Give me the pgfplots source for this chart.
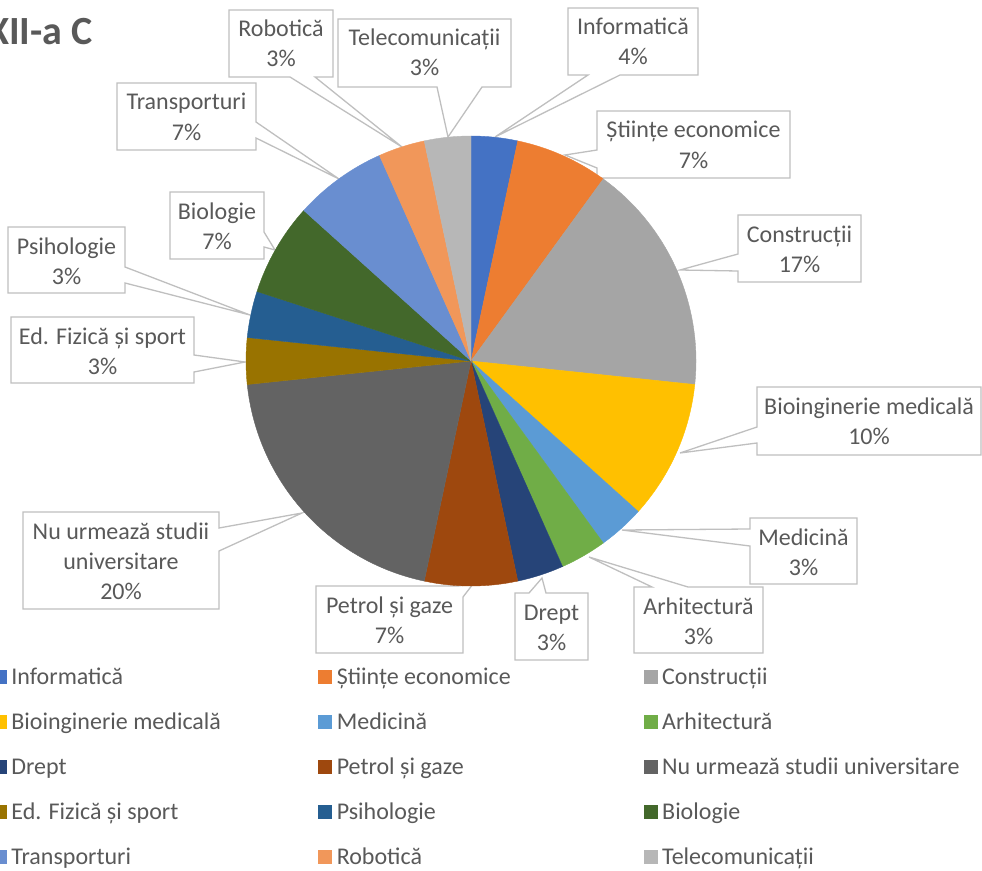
\documentclass[border=0pt]{standalone}
\usepackage{pgfplots}
\pgfplotsset{compat=1.18}
\usepackage{pgfplotstable}
\usepackage{fontspec}
\setmainfont{Carlito}

\definecolor{txt}{HTML}{595959}
\definecolor{boxgray}{HTML}{BFBFBF}
\definecolor{c1}{HTML}{4472C4}
\definecolor{c2}{HTML}{ED7D31}
\definecolor{c3}{HTML}{A5A5A5}
\definecolor{c4}{HTML}{FFC000}
\definecolor{c5}{HTML}{5B9BD5}
\definecolor{c6}{HTML}{70AD47}
\definecolor{c7}{HTML}{264478}
\definecolor{c8}{HTML}{9E480E}
\definecolor{c9}{HTML}{636363}
\definecolor{c10}{HTML}{997300}
\definecolor{c11}{HTML}{255E91}
\definecolor{c12}{HTML}{43682B}
\definecolor{c13}{HTML}{698ED0}
\definecolor{c14}{HTML}{F1975A}
\definecolor{c15}{HTML}{B7B7B7}

% students per option, 30 in all
\pgfplotstableread{
idx cnt
1 1
2 2
3 5
4 3
5 1
6 1
7 1
8 2
9 6
10 1
11 1
12 2
13 2
14 1
15 1
}\slices
\pgfplotstablecreatecol[create col/expr accum={\pgfmathaccuma+\thisrow{cnt}}{0}]{cum}\slices

\pgfdeclareplotmark{wedgeonly}{}
\tikzset{callout/.style={fill=white, draw=boxgray, line width=1.3pt, line join=miter}}
\newcommand\lfont{\fontsize{24}{28}\selectfont}
\newcommand\lgd[1]{\makebox[307pt][l]{\rule[-7pt]{0pt}{25pt}#1}}
\newcommand\lab[4]{%
  \node[anchor=base, text=txt, font=\lfont, inner sep=0pt] at (axis cs:#1,{#2+27}) {#3};
  \node[anchor=base, text=txt, font=\lfont, inner sep=0pt] at (axis cs:#1,{#2+57}) {#4};}

% one legend row per overlaid axis, so that the rows sit 45px apart
\pgfplotsset{frame/.style={at={(0,0)}, anchor=south west, scale only axis,
    width=982pt, height=870pt, xmin=0, xmax=982, ymin=0, ymax=870,
    y dir=reverse, hide axis, clip=false, legend columns=3,
    legend image code/.code={\fill[##1] (0pt,-6.5pt) rectangle (13pt,6.5pt); \path (18pt,0pt);},
    legend style={draw=none, fill=none, inner sep=0pt, outer sep=0pt,
      anchor=north west, font=\lfont, text=txt,
      /tikz/column sep=0pt, nodes={inner sep=0pt}}},
  legrow/.style={frame, legend style={at={(axis cs:-7,#1)}}}}

\begin{document}
\begin{tikzpicture}
\useasboundingbox (0,0) rectangle (982pt,870pt);
\begin{axis}[legrow=666.5]

\addplot[forget plot, scatter, only marks, mark=wedgeonly,
  visualization depends on={\thisrow{idx} \as \sidx},
  visualization depends on={90-12*(\thisrow{cum}-\thisrow{cnt}) \as \aA},
  visualization depends on={90-12*\thisrow{cum} \as \aB},
  scatter/@pre marker code/.code={%
    \pgfmathtruncatemacro\k{\sidx}%
    \fill[c\k] (0,0) -- (\aA:225pt) arc[start angle=\aA, end angle=\aB, radius=225pt] -- cycle;},
  scatter/@post marker code/.code={}]
  table[x expr=471, y expr=361] \slices;

\addlegendimage{c1}\addlegendentry{\lgd{Informatică}}
\addlegendimage{c2}\addlegendentry{\lgd{Științe economice}}
\addlegendimage{c3}\addlegendentry{\lgd{Construcții}}

% data label callouts
\filldraw[callout] (229,10) -- (333,10) -- (333,77) -- (315,77) -- (402,147) -- (290,77) -- (229,77) -- cycle;
\lab{281}{10}{Robotică}{3\%}
\filldraw[callout] (338,19) -- (511,19) -- (511,87) -- (482,87) -- (448,137) -- (437,87) -- (338,87) -- cycle;
\lab{424.5}{19}{Telecomunicații}{3\%}
\filldraw[callout] (568,8) -- (698,8) -- (698,75) -- (620,75) -- (495,137) -- (588,75) -- (568,75) -- cycle;
\lab{633}{8}{Informatică}{4\%}
\filldraw[callout] (597,111) -- (790,111) -- (790,178) -- (597,178) -- (597,168) -- (565,155) -- (597,150) -- cycle;
\lab{693.5}{111}{Științe economice}{7\%}
\filldraw[callout] (738,215) -- (861,215) -- (861,282) -- (738,282) -- (738,271) -- (680,270) -- (738,254) -- cycle;
\lab{799.5}{215}{Construcții}{17\%}
\filldraw[callout] (757,387) -- (981,387) -- (981,455) -- (757,455) -- (757,443) -- (680,453) -- (757,427) -- cycle;
\lab{869}{387}{Bioinginerie medicală}{10\%}
\filldraw[callout] (750,518) -- (857,518) -- (857,584) -- (750,584) -- (750,546) -- (622,530) -- (750,529) -- cycle;
\lab{803.5}{518}{Medicină}{3\%}
\filldraw[callout] (634,587) -- (652,587) -- (589,557) -- (688,587) -- (763,587) -- (763,653) -- (634,653) -- cycle;
\lab{698.5}{587}{Arhitectură}{3\%}
\filldraw[callout] (515,593) -- (529,593) -- (542,578) -- (546,593) -- (588,593) -- (588,660) -- (515,660) -- cycle;
\lab{551.5}{593}{Drept}{3\%}
\filldraw[callout] (316,586) -- (458,586) -- (473,584) -- (463,597) -- (463,653) -- (316,653) -- cycle;
\lab{389.5}{586}{Petrol și gaze}{7\%}
\filldraw[callout] (23,512) -- (219,512) -- (219,528) -- (302,513) -- (219,551) -- (219,609) -- (23,609) -- cycle;
\lab{121}{512}{Nu urmează studii}{universitare}
\node[anchor=base, text=txt, font=\lfont, inner sep=0pt] at (axis cs:121,599) {20\%};
\filldraw[callout] (11,317) -- (194,317) -- (194,355) -- (245,362) -- (194,372) -- (194,383) -- (11,383) -- cycle;
\lab{102.5}{317}{Ed. Fizică și sport}{3\%}
\filldraw[callout] (8,227) -- (125,227) -- (125,267) -- (250,315) -- (125,283) -- (125,293) -- (8,293) -- cycle;
\lab{66.5}{227}{Psihologie}{3\%}
\filldraw[callout] (170,192) -- (264,192) -- (264,232) -- (275,250) -- (264,247) -- (264,259) -- (170,259) -- cycle;
\lab{217}{192}{Biologie}{7\%}
\filldraw[callout] (117,83) -- (256,83) -- (256,122) -- (339,179) -- (256,138) -- (256,150) -- (117,150) -- cycle;
\lab{186.5}{83}{Transporturi}{7\%}

\node[anchor=base east, text=txt, font=\bfseries\fontsize{40}{48}\selectfont, inner sep=0pt] at (axis cs:93,45) {XII-a C};
\end{axis}

\begin{axis}[legrow=711.5]
\addlegendimage{c4}\addlegendentry{\lgd{Bioinginerie medicală}}
\addlegendimage{c5}\addlegendentry{\lgd{Medicină}}
\addlegendimage{c6}\addlegendentry{\lgd{Arhitectură}}
\end{axis}
\begin{axis}[legrow=756.5]
\addlegendimage{c7}\addlegendentry{\lgd{Drept}}
\addlegendimage{c8}\addlegendentry{\lgd{Petrol și gaze}}
\addlegendimage{c9}\addlegendentry{\lgd{Nu urmează studii universitare}}
\end{axis}
\begin{axis}[legrow=801.5]
\addlegendimage{c10}\addlegendentry{\lgd{Ed. Fizică și sport}}
\addlegendimage{c11}\addlegendentry{\lgd{Psihologie}}
\addlegendimage{c12}\addlegendentry{\lgd{Biologie}}
\end{axis}
\begin{axis}[legrow=846.5]
\addlegendimage{c13}\addlegendentry{\lgd{Transporturi}}
\addlegendimage{c14}\addlegendentry{\lgd{Robotică}}
\addlegendimage{c15}\addlegendentry{\lgd{Telecomunicații}}
\end{axis}
\end{tikzpicture}
\end{document}
